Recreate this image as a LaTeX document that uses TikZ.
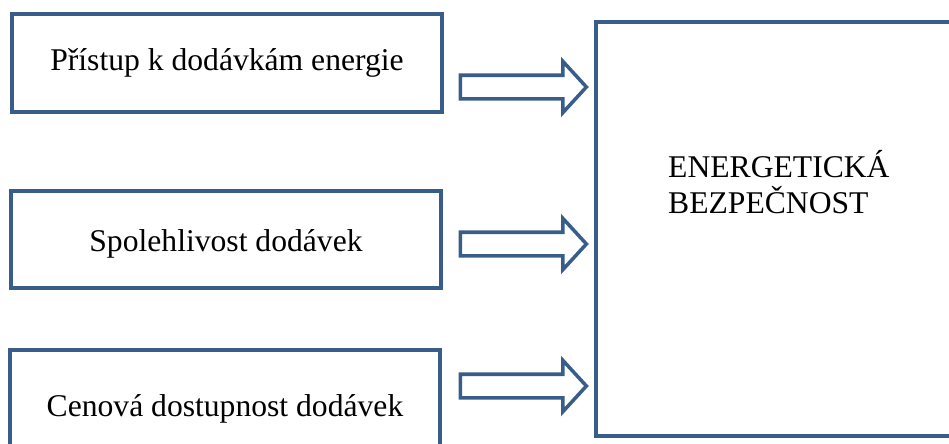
\documentclass[tikz,border=0pt]{standalone}
\usepackage{fontspec}
\setmainfont{Liberation Serif}
\usetikzlibrary{shapes.arrows}
\definecolor{frameblue}{RGB}{56,93,138}

\begin{document}
\begin{tikzpicture}[
    x=0.02cm, y=-0.02cm,
    box/.style={draw=frameblue, line width=2.3pt, minimum width=8.6cm, inner sep=0pt, font=\fontsize{18}{20.4}\selectfont},
    blockarrow/.style={single arrow, draw=frameblue, line width=2pt, minimum height=2.52cm, inner xsep=0pt, inner ysep=0.2cm, single arrow head extend=0.28cm, single arrow tip angle=95}
]
\useasboundingbox (0,0) rectangle (949,443);

% Three factor boxes
\node[box, minimum height=1.96cm] (access) at (227,63) {Přístup k dodávkám energie};
\node[box, minimum height=1.94cm, text height=0.62cm] (reliability) at (226,239.5) {Spolehlivost dodávek};
\node[box, minimum height=2.34cm] (price) at (225,408.5) {Cenová dostupnost dodávek};

% Main box
\node[box, minimum width=7.14cm, minimum height=8.28cm] (security) at (774.5,229) {};
\node[anchor=base west, align=left, font=\fontsize{18}{20.4}\selectfont] (title) at (662,213) {ENERGETICKÁ\\BEZPEČNOST};

% Block arrows
\node[blockarrow] (arrowA) at (518,87) {};
\node[blockarrow] (arrowB) at (518,244) {};
\node[blockarrow] (arrowC) at (518,386) {};

\end{tikzpicture}
\end{document}
